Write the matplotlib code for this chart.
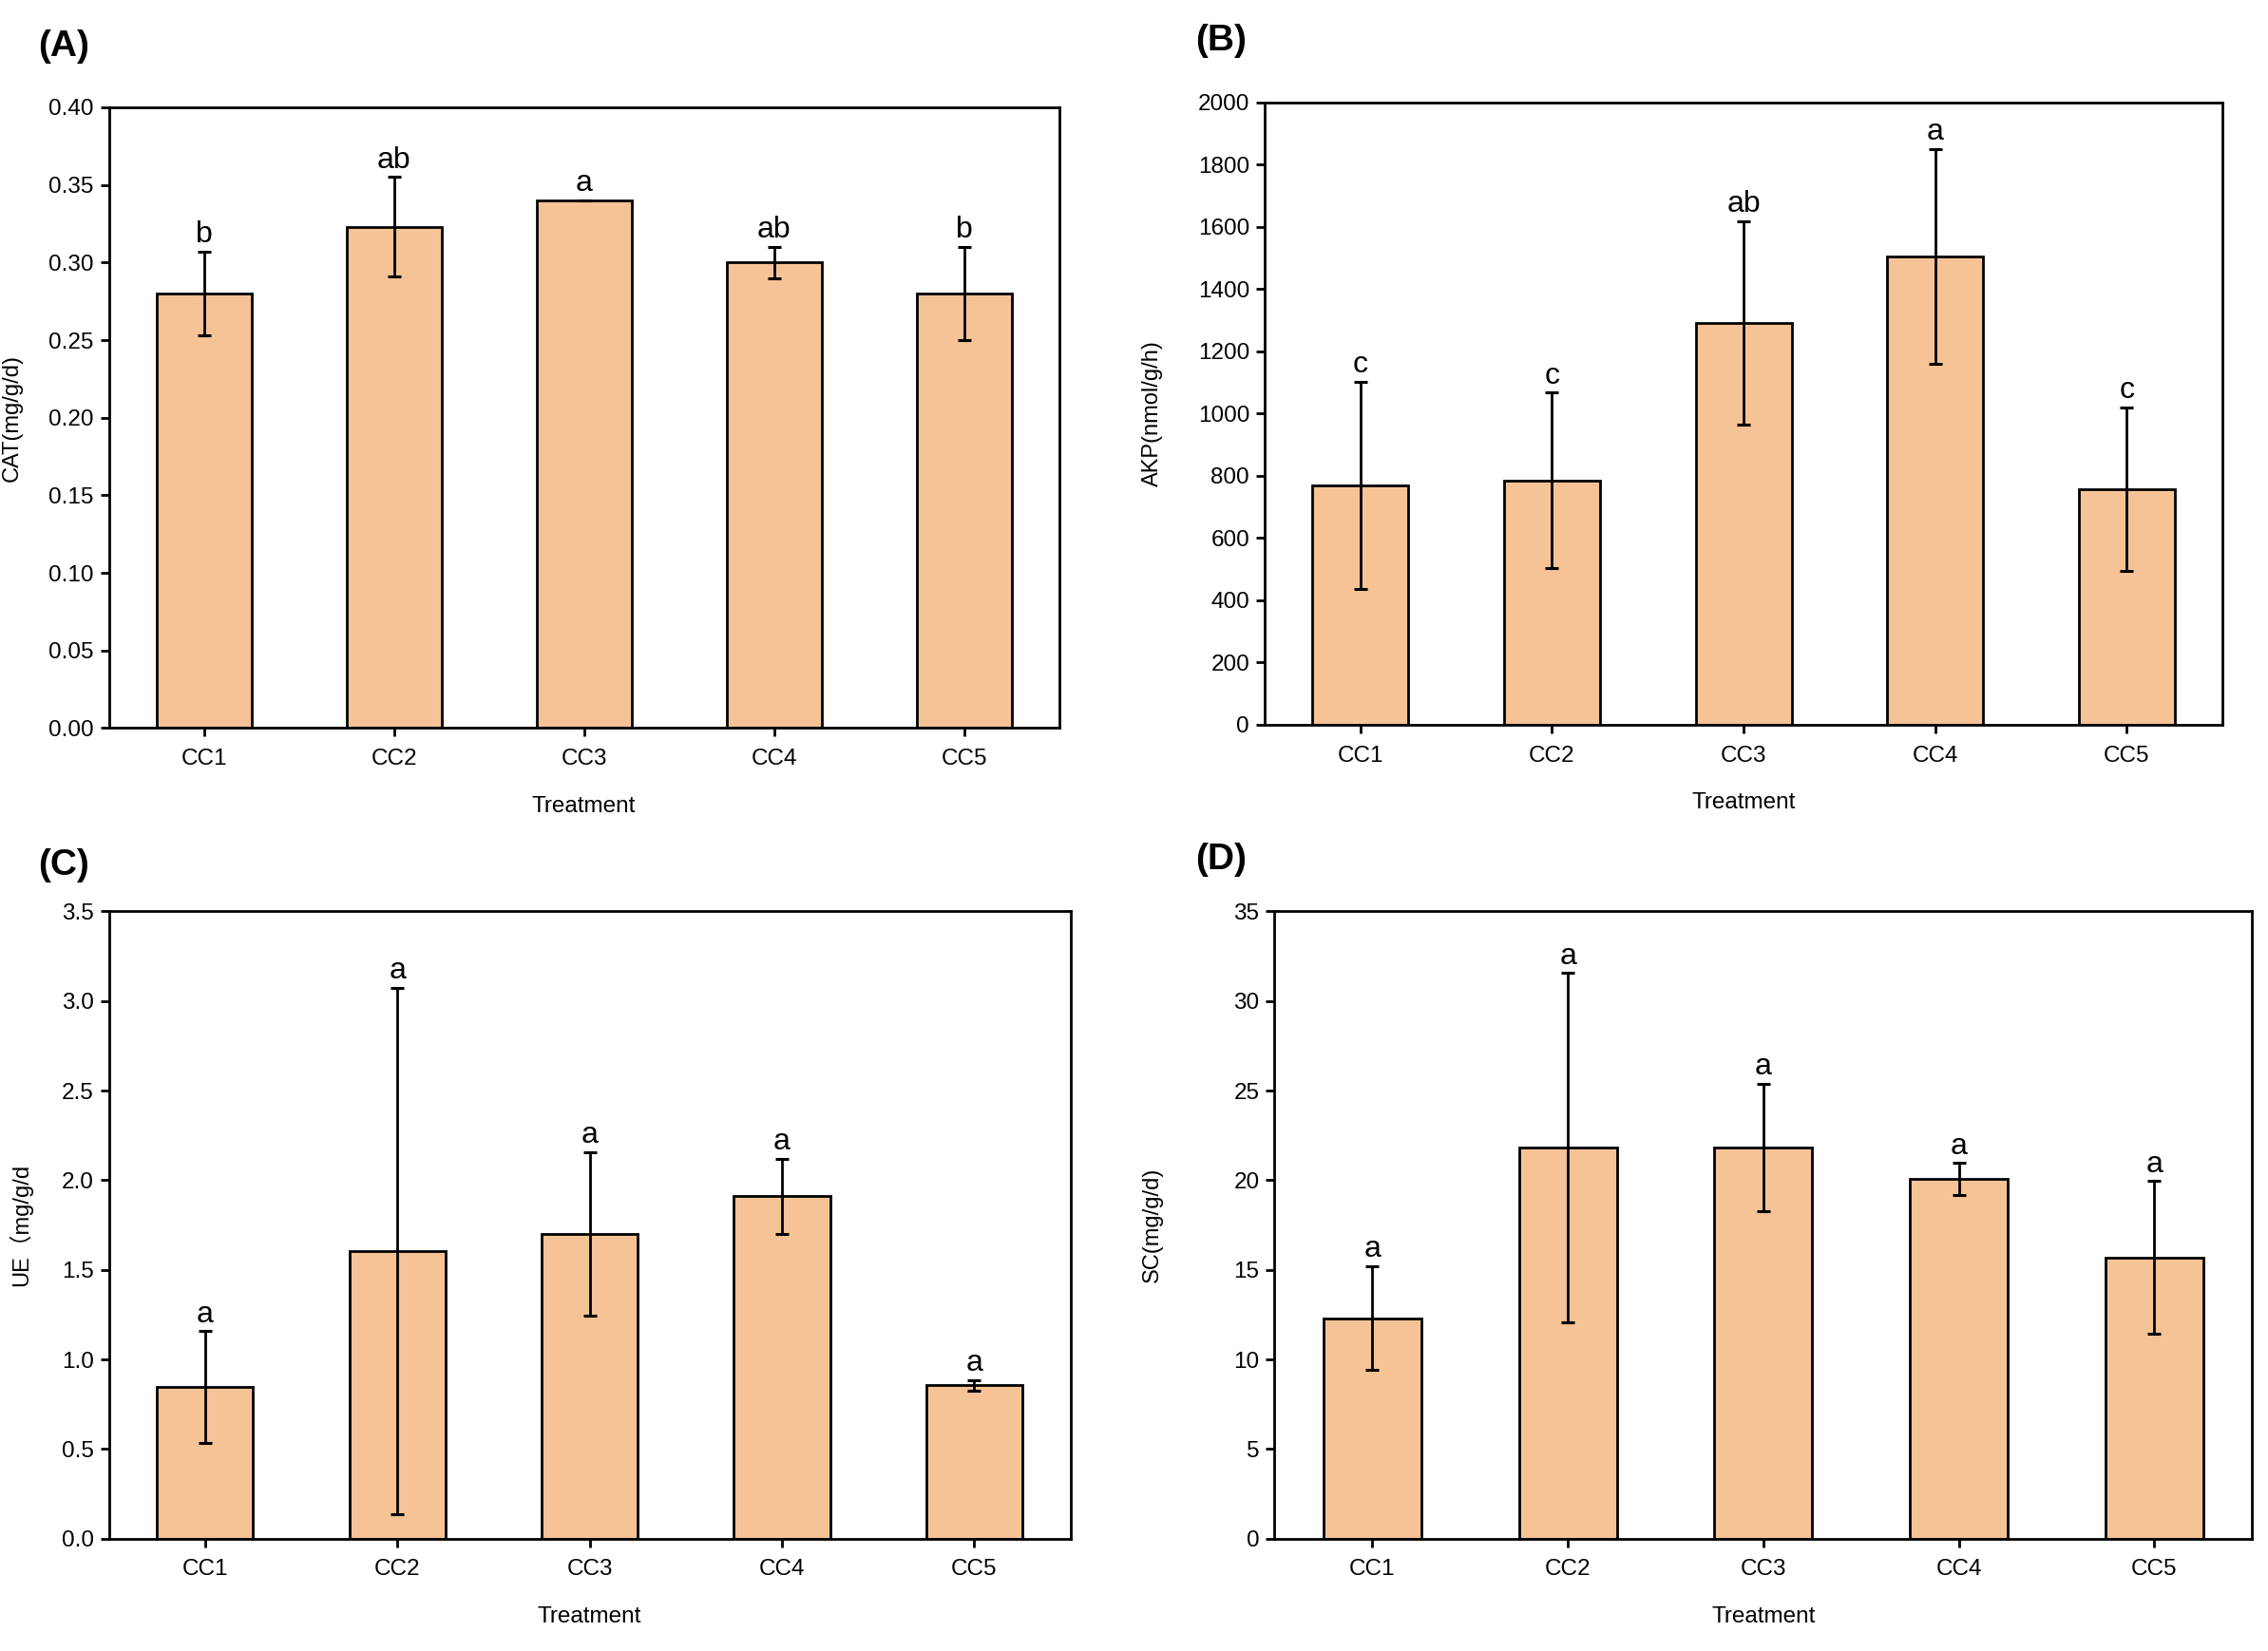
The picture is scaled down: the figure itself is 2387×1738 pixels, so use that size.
import matplotlib
matplotlib.use("Agg")
import matplotlib.pyplot as plt
import numpy as np

plt.rcParams['font.family'] = ['Liberation Sans', 'Noto Sans CJK SC', 'DejaVu Sans']

treatments = ["CC1", "CC2", "CC3", "CC4", "CC5"]

cat_mean = [0.280, 0.323, 0.340, 0.300, 0.280]
cat_err = [0.027, 0.032, 0.0, 0.010, 0.030]
cat_letters = ["b", "ab", "a", "ab", "b"]

akp_mean = [770, 785, 1290, 1505, 757]
akp_err = [333, 282, 327, 345, 263]
akp_letters = ["c", "c", "ab", "a", "c"]

ue_mean = [0.845, 1.605, 1.700, 1.910, 0.855]
ue_err = [0.313, 1.468, 0.458, 0.210, 0.030]
ue_letters = ["a", "a", "a", "a", "a"]

sc_mean = [12.3, 21.8, 21.85, 20.05, 15.7]
sc_err = [2.9, 9.75, 3.55, 0.90, 4.25]
sc_letters = ["a", "a", "a", "a", "a"]

bar_color = "#F5C396"

fig = plt.figure(figsize=(23.87, 17.38), dpi=100)

panels = [
    # rect, mean, err, letters, ylabel, ylim, step, fmt, tag, tagpos, ylabel x
    ([0.048, 0.559, 0.419, 0.376], cat_mean, cat_err, cat_letters, "CAT(mg/g/d)",
     0.40, 0.05, "{:.2f}", "(A)", (0.017, 0.972), -0.091),
    ([0.5576, 0.561, 0.4224, 0.377], akp_mean, akp_err, akp_letters, "AKP(nmol/g/h)",
     2000, 200, "{:.0f}", "(B)", (0.527, 0.975), -0.106),
    ([0.048, 0.068, 0.424, 0.380], ue_mean, ue_err, ue_letters, "UE（mg/g/d",
     3.5, 0.5, "{:.1f}", "(C)", (0.017, 0.476), -0.079),
    ([0.562, 0.068, 0.431, 0.380], sc_mean, sc_err, sc_letters, "SC(mg/g/d)",
     35, 5, "{:.0f}", "(D)", (0.527, 0.479), -0.114),
]

x = np.arange(1, len(treatments) + 1)

for rect, mean, err, letters, ylab, ymax, step, fmt, tag, tagpos, labx in panels:
    ax = fig.add_axes(rect)
    ax.bar(x, mean, width=0.5, color=bar_color, edgecolor="black", linewidth=2, zorder=2)
    ax.errorbar(x, mean, yerr=err, fmt="none", ecolor="black", elinewidth=2,
                capsize=5, capthick=2.2, zorder=3)
    for xi, m, e, lab in zip(x, mean, err, letters):
        ax.annotate(lab, (xi, m + e), xytext=(0, 2), textcoords="offset points",
                    ha="center", va="bottom", fontsize=23)
    ax.set_xlim(0.5, 5.5)
    ax.set_ylim(0, ymax)
    ticks = np.arange(0, ymax + step / 2, step)
    ax.set_yticks(ticks)
    ax.set_yticklabels([fmt.format(t) for t in ticks])
    ax.set_xticks(x)
    ax.set_xticklabels(treatments)
    ax.tick_params(axis="both", direction="out", length=6.5, width=2, labelsize=17.5)
    ax.tick_params(axis="x", pad=9)
    ax.tick_params(axis="y", pad=5)
    for sp in ax.spines.values():
        sp.set_linewidth(2)
    ax.set_xlabel("Treatment", fontsize=17.5, labelpad=20)
    ax.set_ylabel(ylab, fontsize=17)
    ax.yaxis.set_label_coords(labx, 0.5)
    fig.text(tagpos[0], tagpos[1], tag, fontsize=28, fontweight="bold", ha="left", va="center")

fig.savefig("out.png", dpi=100)
